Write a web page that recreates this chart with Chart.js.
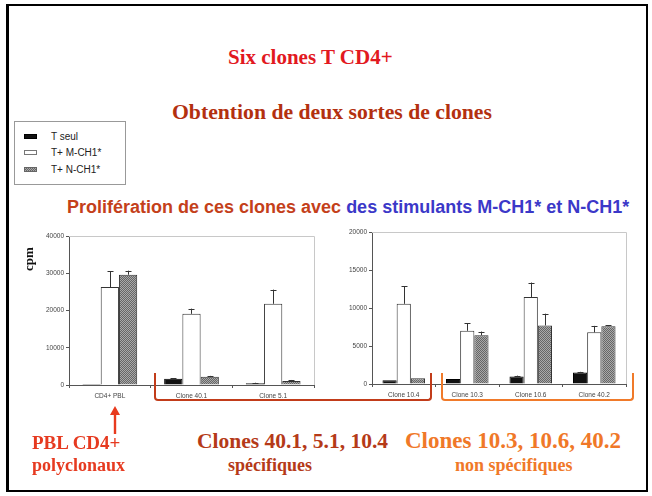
<!DOCTYPE html>
<html>
<head>
<meta charset="utf-8">
<script src="https://cdn.jsdelivr.net/npm/chart.js@4.4.1/dist/chart.umd.min.js"></script>
<style>
    body { margin: 0; background: #fff; }
    #slide { position: relative; width: 652px; height: 496px; overflow: hidden; background: #fff; }
    .frame { position: absolute; left: 6px; top: 4px; width: 637px; height: 484px;
             border: 2px solid #000; border-left-width: 3px; }
    .txt { position: absolute; white-space: nowrap; font-weight: bold; }
    .serif { font-family: 'Liberation Serif', 'Times New Roman', serif; }
    .sans { font-family: 'Liberation Sans', Arial, sans-serif; }
    .legend { position: absolute; left: 14px; top: 121px; width: 110px; height: 62px;
              border: 1px solid #999; background: #fff;
              font-family: 'Liberation Sans', Arial, sans-serif; font-size: 10px; color: #222; }
    .legend .row { position: absolute; left: 0; height: 12px; line-height: 12px; }
    .legend .sw { position: absolute; left: 9px; top: 3px; width: 13px; height: 5px; box-sizing: border-box; }
    .legend .lbl { position: absolute; left: 36px; top: 0; white-space: nowrap; }
    .bracket { position: absolute; border: 2.5px solid; border-top: none; border-radius: 0 0 4px 4px; }
    canvas { position: absolute; }
</style>
</head>
<body>
<div id="slide">
    <div class="frame"></div>

    <div class="txt serif" style="left:228px; top:45px; font-size:21px; line-height:24px; color:#e2191f;">Six clones T CD4+</div>
    <div class="txt serif" style="left:172px; top:100px; font-size:21.7px; line-height:24px; color:#b3300f;">Obtention de deux sortes de clones</div>

    <div class="legend" id="legend"></div>

    <div class="txt sans" style="left:67px; top:197px; font-size:18px; line-height:21px;"><span style="color:#c4401a;">Prolifération de ces clones avec </span><span style="color:#3b38c8;">des stimulants M-CH1* et N-CH1*</span></div>

    <canvas id="leftChart" width="330" height="185" style="left:0; top:225px;"></canvas>
    <canvas id="rightChart" width="320" height="190" style="left:330px; top:220px;"></canvas>

    <div class="txt serif" style="left:22px; top:253px; font-size:13px; line-height:14px; color:#111; transform-origin:0 0; transform:translate(0,18px) rotate(-90deg);">cpm</div>

    <div class="bracket" style="left:154px; top:373px; width:274px; height:26px; border-color:#c23c1a;"></div>
    <div class="bracket" style="left:441px; top:373px; width:189px; height:26px; border-color:#f07a2a;"></div>

    <svg style="position:absolute; left:105px; top:404px;" width="20" height="32">
        <path d="M10 2 L15 11 L11.2 11 L11.2 30 L8.8 30 L8.8 11 L5 11 Z" fill="#e83a1e"/>
    </svg>

    <div class="txt serif" style="left:32px; top:432px; font-size:19px; line-height:22px; color:#e63a20;">PBL CD4+</div>
    <div class="txt serif" style="left:32px; top:454px; font-size:18px; line-height:22px; color:#e63a20;">polyclonaux</div>
    <div class="txt serif" style="left:197px; top:429px; font-size:21.5px; line-height:24px; color:#b53a18;">Clones 40.1, 5.1, 10.4</div>
    <div class="txt serif" style="left:228px; top:455px; font-size:18px; line-height:21px; color:#b53a18;">spécifiques</div>
    <div class="txt serif" style="left:405px; top:429px; font-size:23px; line-height:24px; color:#f07828;">Clones 10.3, 10.6, 40.2</div>
    <div class="txt serif" style="left:455px; top:455px; font-size:18px; line-height:21px; color:#f07828;">non spécifiques</div>
</div>

<script>
// Series names (legend) and per-chart data, in cpm
const seriesNames = ['T seul', 'T+ M-CH1*', 'T+ N-CH1*'];

const leftCategories = ['CD4+ PBL', 'Clone 40.1', 'Clone 5.1'];
const leftAlone = [300, 1700, 500];
const leftM = [26300, 19100, 21800];
const leftN = [29600, 2200, 1100];
const leftAloneSd = [0, 150, 100];
const leftMSd = [4300, 1400, 3800];
const leftNSd = [1100, 250, 250];
const leftTicks = [0, 10000, 20000, 30000, 40000];

const rightCategories = ['Clone 10.4', 'Clone 10.3', 'Clone 10.6', 'Clone 40.2'];
const rightAlone = [480, 650, 1000, 1500];
const rightM = [10550, 7000, 11450, 6800];
const rightN = [750, 6400, 7700, 7600];
const rightAloneSd = [0, 0, 100, 100];
const rightMSd = [2300, 1000, 1900, 850];
const rightNSd = [0, 500, 1550, 150];
const rightTicks = [0, 5000, 10000, 15000, 20000];

Chart.defaults.font.family = "'Liberation Sans', Arial, sans-serif";

// small grey stipple used for the N-CH1 bars
function makeStipple(ctx) {
    const c = document.createElement('canvas');
    c.width = 2; c.height = 2;
    const g = c.getContext('2d');
    g.fillStyle = '#a9a9a9';
    g.fillRect(0, 0, 2, 2);
    g.fillStyle = '#666';
    g.fillRect(0, 0, 1, 1);
    g.fillRect(1, 1, 1, 1);
    return ctx.createPattern(c, 'repeat');
}

// error bars: upward line with a cap, from dataset.errors
const errorBars = {
    id: 'errorBars',
    afterDatasetsDraw(chart) {
        const ctx = chart.ctx;
        const yScale = chart.scales.y;
        chart.data.datasets.forEach((ds, i) => {
            const meta = chart.getDatasetMeta(i);
            meta.data.forEach((bar, j) => {
                const sd = ds.errors[j];
                if (!sd) return;
                const top = yScale.getPixelForValue(ds.data[j] + sd);
                const x = Math.round(bar.x) + 0.5;
                ctx.save();
                ctx.strokeStyle = '#333';
                ctx.lineWidth = 1;
                ctx.beginPath();
                ctx.moveTo(x, bar.y);
                ctx.lineTo(x, top);
                ctx.moveTo(x - 3, Math.round(top) + 0.5);
                ctx.lineTo(x + 3, Math.round(top) + 0.5);
                ctx.stroke();
                ctx.restore();
            });
        });
    }
};

// light grey top and right edges of the plot area
const plotFrame = {
    id: 'plotFrame',
    beforeDatasetsDraw(chart) {
        const a = chart.chartArea;
        const ctx = chart.ctx;
        ctx.save();
        ctx.strokeStyle = '#c8c8c8';
        ctx.lineWidth = 1;
        ctx.beginPath();
        ctx.moveTo(a.left, Math.round(a.top) + 0.5);
        ctx.lineTo(Math.round(a.right) + 0.5, Math.round(a.top) + 0.5);
        ctx.lineTo(Math.round(a.right) + 0.5, a.bottom);
        ctx.stroke();
        ctx.restore();
    }
};

function createBarChart(canvasId, categories, alone, withM, withN, sds, ticks, yWidth, padding) {
    const ctx = document.getElementById(canvasId).getContext('2d');
    const stipple = makeStipple(ctx);
    const tickValues = ticks.slice();

    return new Chart(ctx, {
        type: 'bar',
        data: {
            labels: categories,
            datasets: [{
                label: seriesNames[0],
                data: alone,
                errors: sds[0],
                backgroundColor: '#111',
                borderColor: '#000',
                borderWidth: 1
            }, {
                label: seriesNames[1],
                data: withM,
                errors: sds[1],
                backgroundColor: '#fff',
                borderColor: '#333',
                borderWidth: 1
            }, {
                label: seriesNames[2],
                data: withN,
                errors: sds[2],
                backgroundColor: stipple,
                borderColor: '#333',
                borderWidth: 1
            }]
        },
        options: {
            responsive: false,
            animation: false,
            barPercentage: 1,
            categoryPercentage: 0.67,
            layout: { padding: padding },
            plugins: {
                legend: { display: false },
                tooltip: { enabled: false }
            },
            scales: {
                x: {
                    grid: { display: true, drawOnChartArea: false, tickLength: 3, color: '#555', offset: true },
                    border: { display: true, color: '#555' },
                    ticks: { color: '#444', font: { size: 6.5 }, padding: 4, maxRotation: 0, autoSkip: false },
                    afterFit: scale => { scale.height = 18; }
                },
                y: {
                    min: tickValues[0],
                    max: tickValues[tickValues.length - 1],
                    grid: { display: true, drawOnChartArea: false, tickLength: 3, color: '#555' },
                    border: { display: true, color: '#555' },
                    ticks: {
                        stepSize: tickValues[1] - tickValues[0],
                        color: '#444',
                        font: { size: 6.5 },
                        padding: 2,
                        callback: v => String(v)
                    },
                    afterFit: scale => { scale.width = yWidth; }
                }
            }
        },
        plugins: [plotFrame, errorBars]
    });
}

function buildLegend() {
    const swatches = [
        'background:#111; border:1px solid #000;',
        'background:#fff; border:1px solid #777;',
        'background:repeating-conic-gradient(#666 0 25%, #a9a9a9 0 50%) 0 0/2px 2px; border:1px solid #666;'
    ];
    const rowTops = [9, 25, 42];
    const legend = document.getElementById('legend');
    seriesNames.forEach((name, i) => {
        const row = document.createElement('div');
        row.className = 'row';
        row.style.top = rowTops[i] + 'px';
        row.innerHTML = '<span class="sw" style="' + swatches[i] + '"></span><span class="lbl">' + name + '</span>';
        legend.appendChild(row);
    });
}

document.addEventListener('DOMContentLoaded', function() {
    buildLegend();
    createBarChart('leftChart', leftCategories, leftAlone, leftM, leftN,
        [leftAloneSd, leftMSd, leftNSd], leftTicks, 69, { left: 0, top: 11, right: 16, bottom: 7 });
    createBarChart('rightChart', rightCategories, rightAlone, rightM, rightN,
        [rightAloneSd, rightMSd, rightNSd], rightTicks, 42, { left: 0, top: 12, right: 24, bottom: 8 });
});
</script>
</body>
</html>
